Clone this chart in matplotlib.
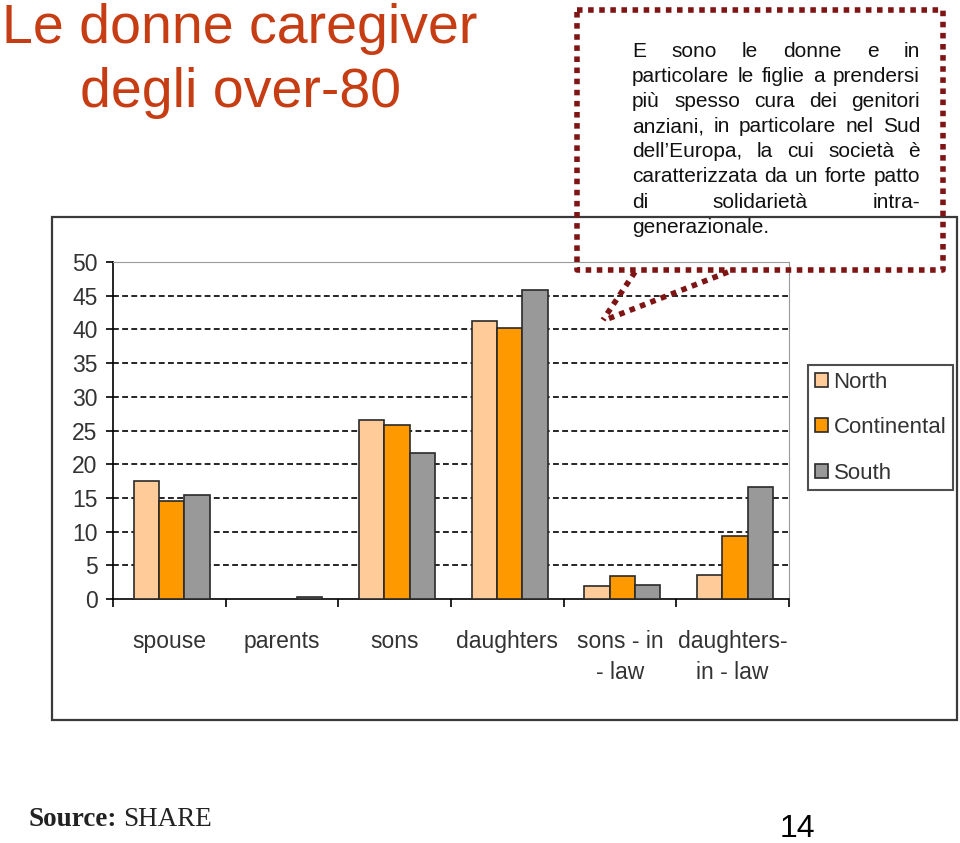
import matplotlib.pyplot as plt
import matplotlib as mpl
import numpy as np
from matplotlib.patches import Rectangle
from matplotlib.lines import Line2D

categories = ["spouse", "parents", "sons", "daughters", "sons - in\n- law", "daughters-\nin - law"]
regions = ["North", "Continental", "South"]
north = [17.5, 0.0, 26.5, 41.2, 1.9, 3.6]
continental = [14.5, 0.0, 25.8, 40.2, 3.4, 9.4]
south = [15.5, 0.3, 21.7, 45.9, 2.1, 16.6]
colors = ["#FFCC99", "#FF9900", "#999999"]

title_lines = ["Le donne caregiver", "degli over-80"]
note_lines = ["E sono le donne e in",
              "particolare le figlie a prendersi",
              "più spesso cura dei genitori",
              "anziani, in particolare nel Sud",
              "dell’Europa, la cui società è",
              "caratterizzata da un forte patto",
              "di solidarietà intra-",
              "generazionale."]

W, H = 960, 843
sans = ['Liberation Sans', 'DejaVu Sans']
mpl.rcParams['font.family'] = sans
txt = "#333333"

fig = plt.figure(figsize=(W / 100, H / 100), dpi=100)

def fx(x):
    return x / W

def fy(y):
    return 1 - y / H

# outer chart frame
fig.add_artist(Rectangle((fx(52), fy(720)), fx(957) - fx(52), fy(217) - fy(720),
                         transform=fig.transFigure, fill=False, edgecolor="#3a3a3a", lw=1.6))

ax = fig.add_axes([fx(113), fy(599), fx(789) - fx(113), fy(262) - fy(599)])
x = np.arange(len(categories))
bw = 0.225
for i, (vals, c, lab) in enumerate(zip([north, continental, south], colors, regions)):
    ax.bar(x + (i - 1) * bw + 0.02, vals, bw, color=c, edgecolor="#2a2a2a", lw=1.2,
           label=lab, zorder=3)

ax.set_xlim(-0.5, len(categories) - 0.5)
ax.set_ylim(0, 50)
ax.set_yticks(range(0, 51, 5))
for yv in range(5, 50, 5):
    ax.axhline(yv, color="black", lw=1.2, ls=(0, (3.5, 2)), zorder=1)

ax.set_xticks(x)
ax.set_xticklabels(categories, fontsize=16.5, color=txt, linespacing=1.45)
ax.set_xticks(np.arange(-0.5, len(categories)), minor=True)
ax.tick_params(axis="x", which="major", length=0, pad=22)
ax.tick_params(axis="x", which="minor", length=6, width=1.2, direction="out", color="black")
ax.tick_params(axis="y", length=5, width=1.2, color="black", labelsize=16.5,
               labelcolor=txt, pad=6)

ax.spines["left"].set_color("black")
ax.spines["bottom"].set_color("black")
ax.spines["left"].set_linewidth(1.2)
ax.spines["bottom"].set_linewidth(1.2)
ax.spines["top"].set_color("#9a9a9a")
ax.spines["right"].set_color("#9a9a9a")

leg = fig.legend(loc="upper left", bbox_to_anchor=(fx(808), fy(365)), fontsize=16,
                 frameon=True, fancybox=False, edgecolor="#222222", handlelength=0.6,
                 handleheight=0.6, handletextpad=0.25, labelspacing=1.1, borderpad=0.3,
                 borderaxespad=0)
leg.get_frame().set_linewidth(1.5)
for t in leg.get_texts():
    t.set_color(txt)

# title
for k, line in enumerate(title_lines):
    fig.text(fx(240), fy(43 + k * 64), line, ha="center", va="baseline", fontsize=40,
             color="#C63D14")

# callout box
red = "#7F1414"
dots = dict(color=red, lw=4, ls=(0, (1, 1)), solid_capstyle="butt",
            dash_capstyle="butt", transform=fig.transFigure)
bx = [577, 943, 943, 577, 577]
by = [10, 10, 270, 270, 10]
fig.add_artist(Line2D([fx(v) for v in bx], [fy(v) for v in by], **dots))
fig.add_artist(Line2D([fx(635), fx(603)], [fy(272), fy(320)], **dots))
fig.add_artist(Line2D([fx(728), fx(605)], [fy(272), fy(320)], **dots))

# justified text
renderer = fig.canvas.get_renderer()
left, right = 632, 920
fs = 15
for k, line in enumerate(note_lines):
    yb = 57 + k * 25.1
    words = line.split()
    if k == len(note_lines) - 1 or len(words) == 1:
        fig.text(fx(left), fy(yb), line, fontsize=fs, color="#111111", va="baseline")
        continue
    arts = [fig.text(0, 0, w, fontsize=fs, color="#111111", va="baseline") for w in words]
    widths = [a.get_window_extent(renderer).width for a in arts]
    gap = (right - left - sum(widths)) / (len(words) - 1)
    xp = left
    for a, wd in zip(arts, widths):
        a.set_position((fx(xp), fy(yb)))
        xp += wd + gap

# source and page number
serif = ['Liberation Serif', 'DejaVu Serif']
fig.text(fx(28), fy(826), "Source:", fontsize=19.5, weight="bold", family=serif,
         color="#222222", va="baseline")
fig.text(fx(123), fy(826), "SHARE", fontsize=19.5, family=serif,
         color="#222222", va="baseline")
fig.text(fx(780), fy(837), "14", fontsize=23, color="black", va="baseline")

fig.savefig("out.png", dpi=100)
